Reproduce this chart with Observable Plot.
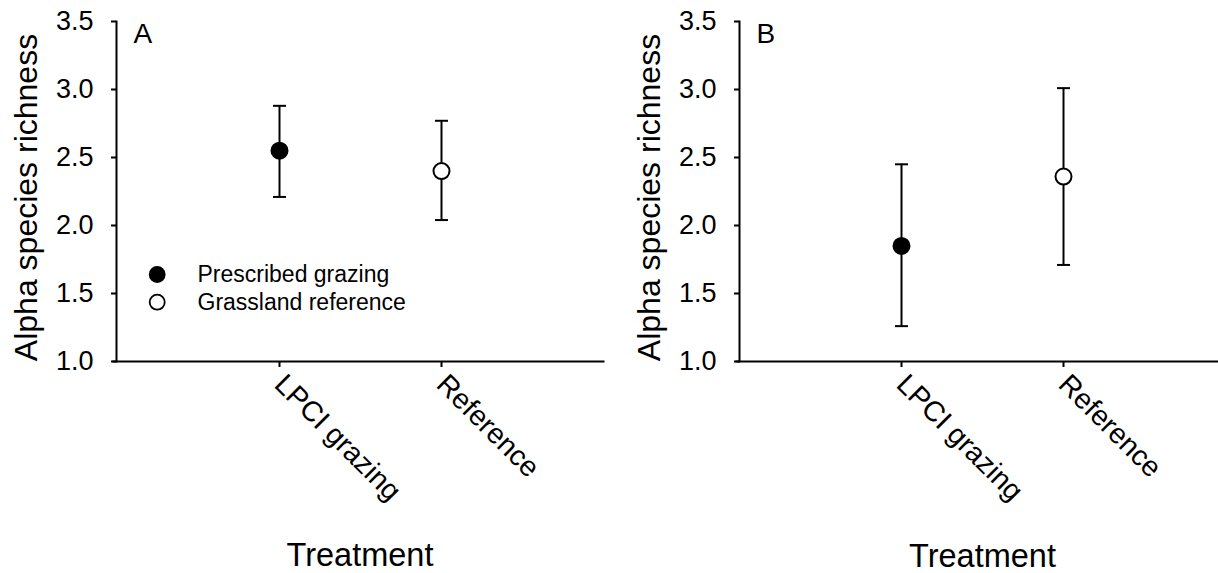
<!DOCTYPE html>
<html>
<head>
<meta charset="utf-8">
<script src="https://cdn.jsdelivr.net/npm/d3@7"></script>
<script src="https://cdn.jsdelivr.net/npm/@observablehq/plot@0.6"></script>
<style>
  html, body { margin: 0; padding: 0; background: #fff; overflow: hidden; }
  #fig { position: relative; width: 1218px; height: 573px; overflow: hidden; background: #fff; }
  #fig > svg { position: absolute; top: 0; }
</style>
</head>
<body>
<div id="fig"></div>
<script>
// Treatments on the x axis and the group each point belongs to
const treatments = ["LPCI grazing", "Reference"];
const groups = ["Prescribed grazing", "Grassland reference"];
const groupFill = ["black", "white"];

// Panel A: mean alpha richness with error-bar limits
const meanA = [2.55, 2.40];
const lowA = [2.21, 2.04];
const highA = [2.88, 2.77];

// Panel B
const meanB = [1.85, 2.36];
const lowB = [1.26, 1.71];
const highB = [2.45, 3.01];

const yTicks = [1.0, 1.5, 2.0, 2.5, 3.0, 3.5];
const panelLetters = ["A", "B"];
const yTitle = "Alpha species richness";
const xTitle = "Treatment";

const FONT = "'Liberation Sans', Arial, Helvetica, sans-serif";

// horizontal cap symbol for the error bars (half-length = r)
const capSymbol = {
  draw(context, size) {
    const h = Math.sqrt(size / Math.PI);
    context.moveTo(-h, 0);
    context.lineTo(h, 0);
  }
};

function panel(letter, mean, low, high, opts) {
  const rows = treatments.map((t, i) => ({
    treatment: t, group: groups[i], mean: mean[i], low: low[i], high: high[i]
  }));

  const marks = [
    // left and bottom axis lines
    Plot.frame({anchor: "left", stroke: "black", strokeWidth: 2}),
    Plot.frame({anchor: "bottom", stroke: "black", strokeWidth: 2, insetLeft: -3}),
    Plot.axisY({
      ticks: yTicks, tickFormat: d3.format(".1f"), tickSize: 5, tickPadding: 18,
      fontSize: 27, strokeWidth: 2, label: null
    }),
    Plot.axisX({
      tickSize: 6, tickPadding: 12, tickRotate: 45, fontSize: 28.5,
      strokeWidth: 2, label: null
    }),
    // axis titles
    Plot.text([yTitle], {
      text: d => d, frameAnchor: "left", rotate: -90, lineAnchor: "top", textAnchor: "middle",
      dx: -102, dy: 6, fontSize: 32, fill: "black"
    }),
    Plot.text([xTitle], {
      text: d => d, frameAnchor: "bottom", lineAnchor: "top", textAnchor: "middle",
      dy: opts.xTitleDy, fontSize: 32.5, fill: "black"
    }),
    // error bars with caps
    Plot.ruleX(rows, {x: "treatment", y1: "low", y2: "high", stroke: "black", strokeWidth: 2}),
    Plot.dot(rows, {x: "treatment", y: "low", symbol: capSymbol, r: 6.5, fill: "none", stroke: "black", strokeWidth: 2}),
    Plot.dot(rows, {x: "treatment", y: "high", symbol: capSymbol, r: 6.5, fill: "none", stroke: "black", strokeWidth: 2}),
    // means
    Plot.dot(rows, {x: "treatment", y: "mean", r: 8, fill: "group", stroke: "black", strokeWidth: 2}),
    // panel letter
    Plot.text([letter], {
      text: d => d, frameAnchor: "top-left", lineAnchor: "top", textAnchor: "start",
      dx: 17, dy: 1.5, fontSize: 28, fill: "black"
    })
  ];

  if (opts.legend) {
    groups.forEach((g, i) => {
      const dy = 253 + i * 27.7;
      marks.push(
        Plot.dot([g], {fill: d => d, frameAnchor: "top-left", dx: 40.7, dy, r: 7.5, stroke: "black", strokeWidth: 1.8}),
        Plot.text([g], {
          text: d => d, frameAnchor: "top-left", textAnchor: "start", lineAnchor: "middle",
          dx: 81, dy, fontSize: 23, fill: "black"
        })
      );
    });
  }

  const svg = Plot.plot({
    width: opts.width,
    height: 573,
    marginLeft: 116,
    marginRight: opts.marginRight,
    marginTop: 21,
    marginBottom: 212,
    style: {fontFamily: FONT, color: "black", background: "transparent", overflow: "visible"},
    x: {type: "point", domain: treatments, padding: 1},
    y: {domain: [1, 3.5]},
    color: {domain: groups, range: groupFill},
    marks
  });
  svg.style.left = opts.left + "px";
  return svg;
}

const fig = document.getElementById("fig");
fig.appendChild(panel(panelLetters[0], meanA, lowA, highA, {left: 0, width: 609, marginRight: 6, legend: true, xTitleDy: 181}));
fig.appendChild(panel(panelLetters[1], meanB, lowB, highB, {left: 623, width: 602, marginRight: 0, legend: false, xTitleDy: 182}));
</script>
</body>
</html>
